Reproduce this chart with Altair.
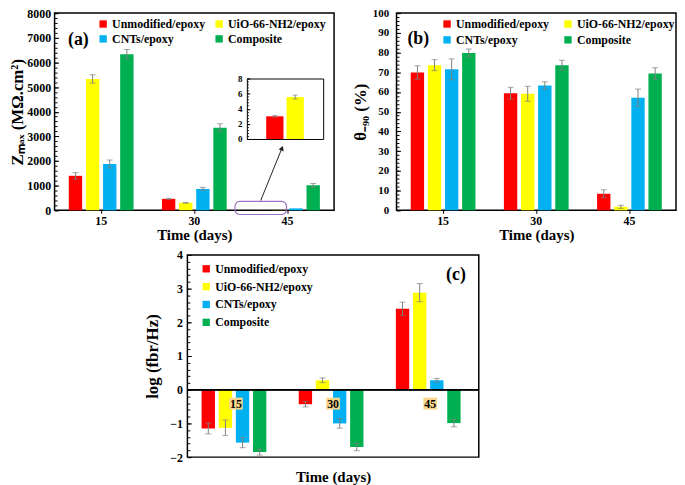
import altair as alt
import pandas as pd

FONT = "Liberation Serif"
GRAY = "#7F7F7F"

times = ["15", "30", "45"]
series = ["Unmodified/epoxy", "UiO-66-NH2/epoxy", "CNTs/epoxy", "Composite"]
colors = ["#FF0000", "#FFFF00", "#00B0F0", "#00B050"]
# legend order for the two-column legends (filled column by column)
legend2_order = ["Unmodified/epoxy", "CNTs/epoxy", "UiO-66-NH2/epoxy", "Composite"]

# (a) Z_max (MOhm.cm2) at 15 / 30 / 45 days
zmax_unmod = [1400, 466, 3.0]
zmax_uio = [5330, 305, 5.55]
zmax_cnt = [1880, 868, 80]
zmax_comp = [6335, 3350, 1017]
zmax_err_unmod = [130, 20, 0.1]
zmax_err_uio = [170, 15, 0.25]
zmax_err_cnt = [160, 60, 10]
zmax_err_comp = [190, 160, 75]

# (a) inset: 45 days, low values
inset_series = ["Unmodified/epoxy", "UiO-66-NH2/epoxy"]
inset_vals = [3.0, 5.55]
inset_errs = [0.1, 0.25]

# (b) theta_-90 (%)
theta_unmod = [69.9, 59.4, 8.4]
theta_uio = [73.6, 59.1, 1.8]
theta_cnt = [71.5, 63.3, 57.1]
theta_comp = [79.8, 73.6, 69.4]
theta_err_unmod = [3.4, 3.0, 2.0]
theta_err_uio = [2.8, 3.8, 0.8]
theta_err_cnt = [5.3, 1.9, 4.4]
theta_err_comp = [2.0, 2.5, 2.9]

# (c) log(f_br/Hz)
logf_unmod = [-1.15, -0.43, 2.40]
logf_uio = [-1.13, 0.28, 2.88]
logf_cnt = [-1.57, -1.00, 0.28]
logf_comp = [-1.85, -1.70, -0.99]
logf_err_unmod = [0.16, 0.08, 0.20]
logf_err_uio = [0.23, 0.07, 0.27]
logf_err_cnt = [0.15, 0.14, 0.05]
logf_err_comp = [0.09, 0.11, 0.11]


def make_df(vals, errs):
    rows = []
    for s, vl, el in zip(series, vals, errs):
        for t, v, e in zip(times, vl, el):
            rows.append({"time": t, "series": s, "value": v, "lo": v - e, "hi": v + e})
    return pd.DataFrame(rows)


df_a = make_df([zmax_unmod, zmax_uio, zmax_cnt, zmax_comp],
               [zmax_err_unmod, zmax_err_uio, zmax_err_cnt, zmax_err_comp])
df_b = make_df([theta_unmod, theta_uio, theta_cnt, theta_comp],
               [theta_err_unmod, theta_err_uio, theta_err_cnt, theta_err_comp])
df_c = make_df([logf_unmod, logf_uio, logf_cnt, logf_comp],
               [logf_err_unmod, logf_err_uio, logf_err_cnt, logf_err_comp])
df_inset = pd.DataFrame({
    "series": inset_series,
    "value": inset_vals,
    "lo": [v - e for v, e in zip(inset_vals, inset_errs)],
    "hi": [v + e for v, e in zip(inset_vals, inset_errs)],
    "hex": colors[:2],
})


def make_legend(x, y, cols, rowpad, colpad):
    return alt.Legend(orient="none", legendX=x, legendY=y, columns=cols, rowPadding=rowpad,
                      columnPadding=colpad, title=None, symbolType="square", symbolSize=55,
                      symbolStrokeWidth=0, labelFont=FONT, labelFontSize=12,
                      labelFontWeight="bold", labelColor="black", labelOffset=3, labelLimit=0)


def bar_layers(df, ydomain, ymajor, yminor, ytitle, ytitle_size, ylab_size, ylab_pad, ytitle_pad,
               legend, legend_order, pi, po, show_x=True, err_filter=None, yfmt="d"):
    xscale = alt.Scale(domain=times, paddingInner=0, paddingOuter=0)
    if show_x:
        xaxis = alt.Axis(orient="bottom", title="Time (days)", labelAngle=0, tickSize=3,
                         labelPadding=2, domain=False, titlePadding=1, titleFontSize=15,
                         labelFontSize=12, grid=False)
    else:
        xaxis = alt.Axis(orient="bottom", title="Time (days)", labels=False, ticks=False,
                         domain=False, titlePadding=13, titleFontSize=15, grid=False)
    x_main = alt.X("time:N", sort=times, scale=xscale, axis=xaxis)
    xo = alt.XOffset("series:N", sort=series,
                     scale=alt.Scale(domain=series, paddingInner=pi, paddingOuter=po))
    y_main = alt.Y("value:Q", scale=alt.Scale(domain=ydomain, nice=False, zero=False),
                   axis=alt.Axis(orient="left", values=ymajor, title=ytitle, offset=-4, tickSize=4,
                                 domain=False, labelPadding=ylab_pad, titlePadding=ytitle_pad,
                                 labelFontSize=ylab_size, titleFontSize=ytitle_size, grid=False,
                                 format=yfmt))
    lcolors = [colors[series.index(s)] for s in legend_order]
    base = alt.Chart(df)
    bars = base.mark_bar().encode(
        x=x_main, xOffset=xo, y=y_main,
        color=alt.Color("series:N", sort=legend_order,
                        scale=alt.Scale(domain=legend_order, range=lcolors), legend=legend))
    eb = base if err_filter is None else base.transform_filter(err_filter)
    rules = eb.mark_rule(color=GRAY, strokeWidth=1).encode(
        x=x_main, xOffset=xo, y=alt.Y("lo:Q", axis=None), y2="hi:Q")
    cap_lo = eb.mark_tick(color=GRAY, orient="horizontal", size=6, thickness=1).encode(
        x=x_main, xOffset=xo, y=alt.Y("lo:Q", axis=None))
    cap_hi = eb.mark_tick(color=GRAY, orient="horizontal", size=6, thickness=1).encode(
        x=x_main, xOffset=xo, y=alt.Y("hi:Q", axis=None))
    minor = base.mark_bar(opacity=0).encode(
        x=x_main, xOffset=xo,
        y=alt.Y("value:Q", axis=alt.Axis(orient="left", values=yminor, tickSize=2.5, offset=-2.5,
                                         labels=False, domain=False, grid=False, title=None)))
    return [bars, rules, cap_lo, cap_hi, minor], x_main


def tag(label, size):
    return alt.Chart(pd.DataFrame({"t": [label]})).mark_text(
        font=FONT, fontWeight="bold", fontSize=size, color="black"
    ).encode(text="t:N")


# ---------- panel (a) ----------
layers_a, xa = bar_layers(
    df_a, [0, 8000], list(range(0, 8001, 1000)), list(range(0, 8001, 200)),
    "Z\u2098\u2090\u2093 (M\u03a9.cm\u00b2)", 17, 12, 4, 0,
    make_legend(43, 5, 2, 3, 7), legend2_order, 0.22, 0.83, err_filter="datum.value > 150")

one45 = pd.DataFrame({"time": ["45"]})
zoom_box = alt.Chart(one45).mark_bar(
    width=52, xOffset=-27, cornerRadius=5, fill="transparent", stroke="#9B6FC4", strokeWidth=1.2
).encode(x=xa, y=alt.YDatum(360, axis=None), y2=alt.Y2Datum(-170))
arrow = alt.Chart(one45).mark_rule(color="#222222", strokeWidth=1, xOffset=-27, x2Offset=-6).encode(
    x=xa, x2="time:N", y=alt.YDatum(400, axis=None), y2=alt.Y2Datum(2480))
arrow_head = alt.Chart(one45).mark_point(
    shape="triangle-up", filled=True, color="#222222", size=30, angle=22, xOffset=-5.5, opacity=1
).encode(x=xa, y=alt.YDatum(2520, axis=None))
tag_a = tag("(a)", 18).encode(x=alt.value(24), y=alt.value(27))

main_a = alt.layer(*layers_a, zoom_box, arrow, arrow_head, tag_a).resolve_axis(y="independent")

ix = alt.Scale(domain=inset_series, range=[194, 271], paddingInner=0.15, paddingOuter=0.95)
iy = alt.Scale(domain=[0, 8], range=[127, 66], nice=False, zero=False)
ibase = alt.Chart(df_inset)
ix_plain = alt.X("series:N", sort=inset_series, axis=None)
ibars = ibase.mark_bar().encode(
    x=alt.X("series:N", sort=inset_series, scale=ix,
            axis=alt.Axis(orient="bottom", offset=-72, labels=False, ticks=False, domain=True,
                          domainColor="black", domainWidth=1, title=None, grid=False)),
    y=alt.Y("value:Q", scale=iy,
            axis=alt.Axis(orient="left", offset=-197, values=[0, 2, 4, 6, 8], tickSize=3,
                          domain=False, labelFontSize=9, labelPadding=5, title=None, grid=False)),
    color=alt.Color("hex:N", scale=None))
irule = ibase.mark_rule(color=GRAY).encode(x=ix_plain, y=alt.Y("lo:Q", axis=None), y2="hi:Q")
icap_lo = ibase.mark_tick(color=GRAY, orient="horizontal", size=5, thickness=1).encode(
    x=ix_plain, y=alt.Y("lo:Q", axis=None))
icap_hi = ibase.mark_tick(color=GRAY, orient="horizontal", size=5, thickness=1).encode(
    x=ix_plain, y=alt.Y("hi:Q", axis=None))
iframe_tr = ibase.mark_bar(opacity=0).encode(
    x=alt.X("series:N", sort=inset_series,
            axis=alt.Axis(orient="top", offset=-66, labels=False, ticks=False, domain=True,
                          domainColor="black", title=None, grid=False)),
    y=alt.Y("value:Q",
            axis=alt.Axis(orient="right", offset=-11, labels=False, ticks=False, domain=True,
                          domainColor="black", title=None, grid=False)))
iframe_l = ibase.mark_bar(opacity=0).encode(
    x=ix_plain,
    y=alt.Y("value:Q",
            axis=alt.Axis(orient="left", offset=-195.5, values=[i * 0.4 for i in range(21)],
                          tickSize=1.5, labels=False, domain=False, title=None, grid=False)))
iframe_l2 = ibase.mark_bar(opacity=0).encode(
    x=ix_plain,
    y=alt.Y("value:Q",
            axis=alt.Axis(orient="left", offset=-194, labels=False, ticks=False, domain=True,
                          domainColor="black", title=None, grid=False)))
inset = alt.layer(ibars, irule, icap_lo, icap_hi, iframe_tr, iframe_l, iframe_l2).resolve_axis(
    x="independent", y="independent")

panel_a = alt.layer(main_a, inset).resolve_scale(x="independent", y="independent").properties(
    width=282, height=199)

# ---------- panel (b) ----------
layers_b, xb = bar_layers(
    df_b, [0, 100], list(range(0, 101, 10)), list(range(0, 101, 2)),
    "\u03b8\u208b\u2089\u2080 (%)", 17, 11, 8, 3,
    make_legend(45, 5, 2, 4, 12), legend2_order, 0.19, 0.85)
tag_b = tag("(b)", 18).encode(x=alt.value(22), y=alt.value(26))
panel_b = alt.layer(*layers_b, tag_b).resolve_axis(y="independent").properties(width=282, height=199)

# ---------- panel (c) ----------
layers_c, xc = bar_layers(
    df_c, [-2, 4], list(range(-2, 5)), [i * 0.2 - 2 for i in range(31)],
    "log (fbr/Hz)", 17, 12, 5, 8,
    make_legend(13, 8, 1, 6, 10), series, 0.17, 0.885, show_x=False)
df_lab = pd.DataFrame({"time": times, "base": [0, 0, 0]})
zero_line = alt.Chart(df_lab).mark_rule(color="black", strokeWidth=1.5).encode(
    y=alt.Y("base:Q", axis=None))
lab_box = alt.Chart(df_lab).mark_point(
    shape="M-1.15,-1L1.15,-1L1.15,1L-1.15,1Z", filled=True, color="#F9D68C", opacity=1,
    size=144, yOffset=14).encode(x=xc, y=alt.Y("base:Q", axis=None))
lab_txt = alt.Chart(df_lab).mark_text(
    font=FONT, fontWeight="bold", fontSize=12, yOffset=14, color="black").encode(
    x=xc, y=alt.Y("base:Q", axis=None), text="time:N")
tag_c = tag("(c)", 18).encode(x=alt.value(271), y=alt.value(20))
panel_c = alt.layer(*layers_c, zero_line, lab_box, lab_txt, tag_c).resolve_axis(
    y="independent").properties(width=294, height=204)

spacer = alt.Chart(pd.DataFrame({"s": [0.5]})).mark_point(opacity=0).encode(
    x=alt.X("s:Q", axis=None, scale=alt.Scale(domain=[0, 1])),
    y=alt.Y("s:Q", axis=None, scale=alt.Scale(domain=[0, 1]))
).properties(width=134, height=10, view=alt.ViewBackground(stroke="transparent"))

row1 = alt.hconcat(panel_a, panel_b, spacing=63, bounds="flush").resolve_scale(color="independent")
row2 = alt.hconcat(spacer, panel_c, spacing=0, bounds="flush").resolve_scale(color="independent")

chart = alt.vconcat(row1, row2, spacing=5,
                    padding={"left": 0, "top": -4, "right": 0, "bottom": 0}
                    ).resolve_scale(color="independent").configure_view(
    stroke="black", strokeWidth=1.5
).configure_axis(
    labelFont=FONT, titleFont=FONT, labelFontWeight="bold", titleFontWeight="bold",
    labelColor="black", titleColor="black", tickColor="black", minExtent=0
)

chart.save("out.html", embed_options={"renderer": "svg", "actions": False})
